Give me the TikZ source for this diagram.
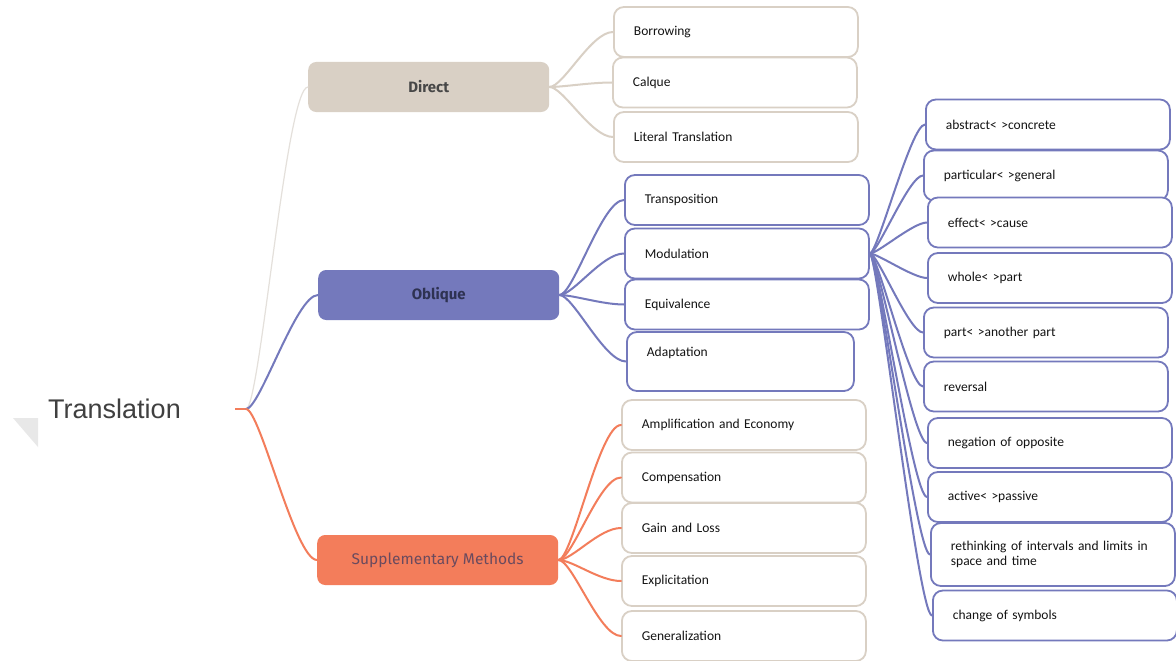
\documentclass[tikz,border=0pt]{standalone}
\usepackage{fontspec}
\setmainfont{Fira Sans}
\newfontfamily\leaffont{Carlito}
\newfontfamily\rootfont{Liberation Sans}
\definecolor{directc}{HTML}{D9D0C5}
\definecolor{obliquec}{HTML}{7479BC}
\definecolor{supplc}{HTML}{F37D5B}
\definecolor{rootline}{HTML}{E4E0DB}
\definecolor{obliquetext}{HTML}{2E3252}
\definecolor{suppltext}{HTML}{6A4A5E}
\begin{document}
\begin{tikzpicture}[x=1pt,y=-1pt,
  topic/.style={rectangle,rounded corners=8pt,minimum width=241pt,minimum height=50pt,anchor=west,
    font=\fontsize{15.5}{18}\selectfont},
  leaf/.style={rectangle,draw,line width=1.8pt,fill=white,rounded corners=10pt,anchor=west,
    minimum height=50pt,text width=204pt,inner xsep=20pt,align=left,
    font=\leaffont\fontsize{13.5}{15}\selectfont,text=black!92},
  branch/.style={line width=2pt,line cap=round,
    to path={.. controls +(14,0) and +(-22,0) .. (\tikztotarget)}}]
\useasboundingbox (0,0) rectangle (1176,661);
\fill[white] (0,0) rectangle (1176,661);

% root
\fill[black!9] (13,418) -- (38,418) -- (38,447) -- cycle;
\node[minimum width=241pt,inner sep=0pt,font=\rootfont\fontsize{27}{30}\selectfont,text=black!75] (root) at (114.5,409) {Translation};
\coordinate (hub) at (246,409);

% main topics
\node[topic,fill=directc,text=black!72,font=\fontsize{15}{18}\selectfont\bfseries] (direct) at (308,87) {Direct};
\node[topic,fill=obliquec,text=obliquetext,font=\fontsize{15}{18}\selectfont\bfseries] (oblique) at (318,295) {Oblique};
\node[topic,fill=supplc,text=suppltext] (suppl) at (317,560) {Supplementary Methods};

\draw[supplc,line width=2pt] (root.east) -- (hub);
\draw[branch,rootline,line width=1.2pt] (hub) to (direct.west);
\draw[branch,obliquec] (hub) to (oblique.west);
\draw[branch,supplc] (hub) to (suppl.west);

% direct
\node[leaf,draw=directc] (borrow) at (613,32) {Borrowing};
\node[leaf,draw=directc] (calque) at (612,82.5) {Calque};
\node[leaf,draw=directc] (literal) at (613,137) {Literal Translation};
\foreach \n in {borrow,calque,literal}
  \draw[branch,directc] (direct.east) to (\n.west);

% oblique
\node[leaf,draw=obliquec] (transp) at (624,200) {Transposition};
\node[leaf,draw=obliquec] (modul) at (624,253.5) {Modulation};
\node[leaf,draw=obliquec] (equiv) at (624,304.5) {Equivalence};
\node[leaf,draw=obliquec,text width=187pt,minimum height=59pt] (adapt) at (626,361.5) {Adaptation\\\strut};
\foreach \n in {transp,modul,equiv,adapt}
  \draw[branch,obliquec] (oblique.east) to (\n.west);

% modulation
\node[leaf,draw=obliquec] (m1) at (925,124.5) {abstract< >concrete};
\node[leaf,draw=obliquec] (m2) at (923,175.5) {particular< >general};
\node[leaf,draw=obliquec] (m3) at (927,222.5) {effect< >cause};
\node[leaf,draw=obliquec] (m4) at (927,278) {whole< >part};
\node[leaf,draw=obliquec] (m5) at (923,332.5) {part< >another part};
\node[leaf,draw=obliquec] (m6) at (923,386.5) {reversal};
\node[leaf,draw=obliquec] (m7) at (927,443) {negation of opposite};
\node[leaf,draw=obliquec] (m8) at (927,497) {active< >passive};
\node[leaf,draw=obliquec,minimum height=63pt] (m9) at (930,554.5) {rethinking of intervals and limits in\\space and time};
\node[leaf,draw=obliquec] (m10) at (932,615.5) {change of symbols};
\foreach \n in {m1,m2,m3,m4,m5,m6,m7,m8,m9,m10}
  \draw[branch,obliquec,to path={.. controls +(8,0) and +(-14,0) .. (\tikztotarget)}] (modul.east) to (\n.west);

% supplementary
\node[leaf,draw=directc] (ampl) at (621,425) {Amplification and Economy};
\node[leaf,draw=directc] (comp) at (621,477.5) {Compensation};
\node[leaf,draw=directc] (gain) at (621,528) {Gain and Loss};
\node[leaf,draw=directc] (expl) at (621,581) {Explicitation};
\node[leaf,draw=directc] (gener) at (621,636) {Generalization};
\foreach \n in {ampl,comp,gain,expl,gener}
  \draw[branch,supplc] (suppl.east) to (\n.west);
\end{tikzpicture}
\end{document}
